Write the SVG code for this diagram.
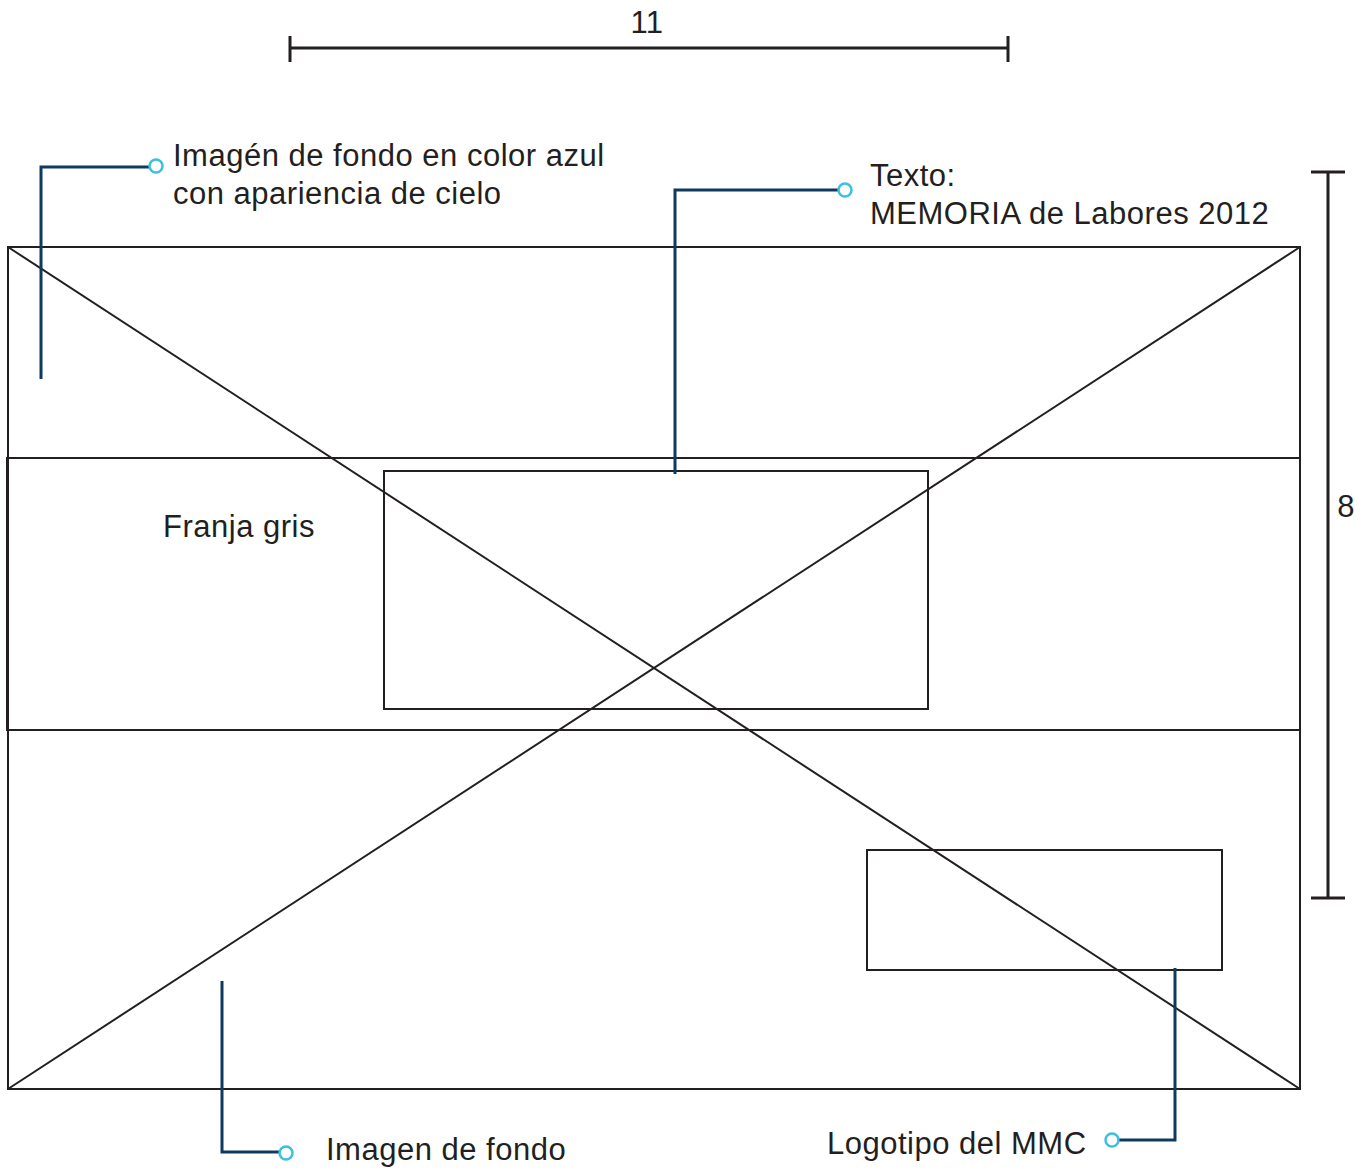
<svg xmlns="http://www.w3.org/2000/svg" width="1370" height="1171" viewBox="0 0 1370 1171">
<style>
.ln{fill:none;stroke:#231f20;stroke-width:2}
.dim{fill:none;stroke:#231f20;stroke-width:3}
.co{fill:none;stroke:#0e3a5f;stroke-width:3}
.dot{fill:#fff;stroke:#3cc0e0;stroke-width:2.5}
text{font-family:"Liberation Sans",Arial,sans-serif;font-size:31px;letter-spacing:0.5px;fill:#231f20}
</style>
<rect width="1370" height="1171" fill="#fff"/>
<g id="frame">
<rect class="ln" x="8" y="247" width="1292" height="842"/>
<line class="ln" x1="8" y1="247" x2="1300" y2="1089"/>
<line class="ln" x1="8" y1="1089" x2="1300" y2="247"/>
</g>
<g id="strip">
<rect class="ln" x="7" y="458" width="1293" height="272"/>
<line class="ln" x1="7" y1="458" x2="7" y2="730" stroke-width="3"/>
<text x="163" y="537">Franja gris</text>
</g>
<g id="title-box"><rect class="ln" x="384" y="471" width="544" height="238"/></g>
<g id="logo-box"><rect class="ln" x="867" y="850" width="355" height="120"/></g>
<g id="dim-width">
<line class="dim" x1="290" y1="48" x2="1008" y2="48"/>
<line class="dim" x1="290" y1="36" x2="290" y2="62"/>
<line class="dim" x1="1008" y1="36" x2="1008" y2="62"/>
<text x="647" y="33" text-anchor="middle">11</text>
</g>
<g id="dim-height">
<line class="dim" x1="1328" y1="172" x2="1328" y2="898"/>
<line class="dim" x1="1311" y1="172" x2="1345" y2="172"/>
<line class="dim" x1="1311" y1="898" x2="1345" y2="898"/>
<text x="1346" y="517" text-anchor="middle">8</text>
</g>
<g id="connectors">
<polyline class="co" points="41,379 41,167 150,167"/>
<polyline class="co" points="675,474 675,190 839,190"/>
<polyline class="co" points="222,981 222,1152 279,1152"/>
<polyline class="co" points="1175,968 1175,1140 1119,1140"/>
<circle class="dot" cx="156" cy="166" r="6.5"/>
<circle class="dot" cx="845" cy="190" r="6.5"/>
<circle class="dot" cx="286" cy="1153" r="6.5"/>
<circle class="dot" cx="1112" cy="1140" r="6.5"/>
</g>
<g id="label-sky">
<text x="173" y="166">Imagén de fondo en color azul</text>
<text x="173" y="204">con apariencia de cielo</text>
</g>
<g id="label-text">
<text x="870" y="186">Texto:</text>
<text x="870" y="224">MEMORIA de Labores 2012</text>
</g>
<g id="label-bg"><text x="326" y="1160">Imagen de fondo</text></g>
<g id="label-logo"><text x="827" y="1154">Logotipo del MMC</text></g>
</svg>
